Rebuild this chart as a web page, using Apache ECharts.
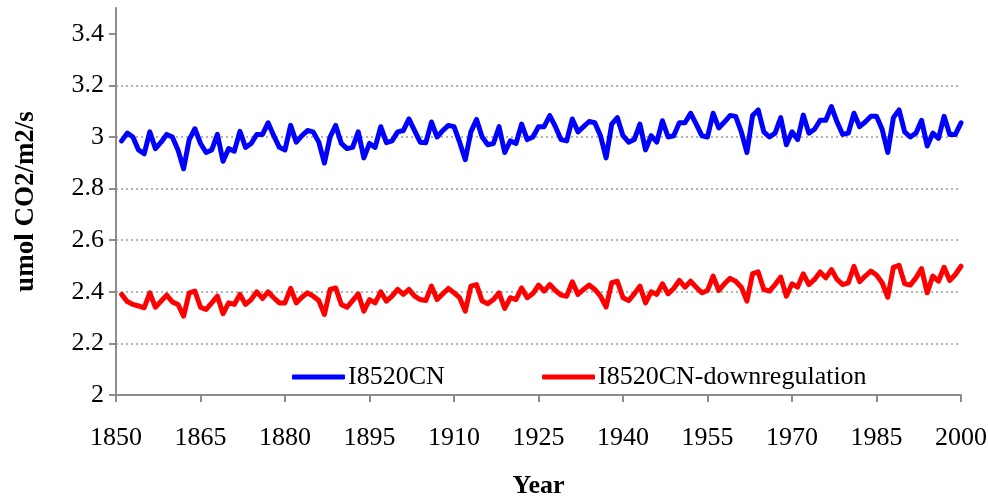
<!DOCTYPE html>
<html>
<head>
<meta charset="utf-8">
<script src="https://cdn.jsdelivr.net/npm/echarts@6/dist/echarts.min.js"></script>
<style>
    html, body { margin: 0; padding: 0; background: #fff; }
    #chart { width: 988px; height: 498px; }
</style>
</head>
<body>
<div id="chart"></div>
<script>
// Valeurs (une valeur par an, 1851-2000)
const firstYear = 1851;

const cnValues = [
    2.985, 3.015, 3.00, 2.95, 2.935, 3.02, 2.955, 2.98, 3.01, 3.00,
    2.95, 2.877, 2.99, 3.032, 2.975, 2.94, 2.95, 3.01, 2.906, 2.955,
    2.945, 3.022, 2.96, 2.975, 3.01, 3.01, 3.055, 3.005, 2.96, 2.95,
    3.045, 2.98, 3.005, 3.025, 3.02, 2.98, 2.899, 3.0, 3.045, 2.975,
    2.955, 2.96, 3.02, 2.919, 2.975, 2.96, 3.04, 2.978, 2.985, 3.02,
    3.025, 3.07, 3.025, 2.98, 2.978, 3.058, 3.0, 3.025, 3.045, 3.04,
    2.98, 2.912, 3.02, 3.068, 3.0, 2.97, 2.975, 3.04, 2.94, 2.985,
    2.975, 3.05, 2.99, 3.0, 3.04, 3.04, 3.083, 3.04, 2.99, 2.985,
    3.07, 3.02, 3.04, 3.06, 3.055, 3.005, 2.919, 3.05, 3.075, 3.005,
    2.98, 2.99, 3.05, 2.95, 3.005, 2.98, 3.063, 3.0, 3.005, 3.055,
    3.055, 3.092, 3.05, 3.005, 3.0, 3.092, 3.035, 3.058, 3.083, 3.08,
    3.02, 2.94, 3.083, 3.105, 3.02, 3.0, 3.015, 3.075, 2.97, 3.02,
    2.99, 3.085, 3.015, 3.03, 3.065, 3.065, 3.118, 3.058, 3.01, 3.015,
    3.092, 3.04, 3.058, 3.08, 3.08, 3.03, 2.94, 3.075, 3.105, 3.02,
    3.0, 3.015, 3.065, 2.965, 3.015, 2.995, 3.08, 3.01, 3.01, 3.055
];

const downValues = [
    2.39, 2.362, 2.351, 2.345, 2.338, 2.396, 2.34, 2.364, 2.387, 2.361,
    2.351, 2.306, 2.396, 2.403, 2.34, 2.332, 2.357, 2.383, 2.315, 2.357,
    2.351, 2.39, 2.351, 2.37, 2.40, 2.374, 2.40, 2.377, 2.357, 2.357,
    2.413, 2.357, 2.379, 2.396, 2.383, 2.366, 2.312, 2.409, 2.415, 2.351,
    2.34, 2.366, 2.392, 2.325, 2.37, 2.357, 2.40, 2.364, 2.383, 2.409,
    2.39, 2.409, 2.383, 2.37, 2.366, 2.422, 2.37, 2.392, 2.413, 2.396,
    2.377, 2.325, 2.422, 2.428, 2.364, 2.354, 2.37, 2.396, 2.336, 2.377,
    2.37, 2.415, 2.377, 2.393, 2.426, 2.403, 2.428, 2.405, 2.387, 2.383,
    2.439, 2.39, 2.409, 2.426, 2.409, 2.383, 2.341, 2.435, 2.441, 2.377,
    2.366, 2.392, 2.422, 2.357, 2.40, 2.39, 2.431, 2.392, 2.413, 2.444,
    2.418, 2.441, 2.418, 2.396, 2.405, 2.461, 2.405, 2.431, 2.452, 2.441,
    2.418, 2.364, 2.47, 2.477, 2.409, 2.403, 2.428, 2.457, 2.383, 2.431,
    2.418, 2.47, 2.428, 2.448, 2.477, 2.454, 2.486, 2.448, 2.428, 2.435,
    2.499, 2.439, 2.461, 2.48, 2.465, 2.435, 2.379, 2.495, 2.503, 2.431,
    2.426, 2.454, 2.49, 2.396, 2.461, 2.441, 2.495, 2.444, 2.467, 2.499
];

const seriesNames = ['I8520CN', 'I8520CN-downregulation'];
const seriesColors = ['#0000ff', '#ff0000'];
const yTicks = [2, 2.2, 2.4, 2.6, 2.8, 3, 3.2, 3.4];

const FONT = "'Liberation Serif', 'Times New Roman', serif";
const AXIS_GREY = '#8c8c8c';

/**
 * Associe chaque valeur à son année
 */
function toPairs(values) {
    return values.map((v, i) => [firstYear + i, v]);
}

function lineSeries(name, color, values) {
    return {
        name: name,
        type: 'line',
        data: toPairs(values),
        showSymbol: false,
        symbol: 'none',
        lineStyle: { color: color, width: 5, cap: 'round', join: 'round' },
        itemStyle: { color: color },
        emphasis: { disabled: true },
        animation: false
    };
}

function legendAt(left, name) {
    return {
        left: left,
        top: 358,
        data: [name],
        icon: 'roundRect',
        itemWidth: 53,
        itemHeight: 5,
        itemGap: 0,
        selectedMode: false,
        textStyle: { fontFamily: FONT, fontSize: 26, color: '#000', lineHeight: 28, padding: [0, 0, 0, -2] }
    };
}

const dom = document.getElementById('chart');
const myChart = echarts.init(dom, null, { renderer: 'canvas' });

myChart.setOption({
    animation: false,
    backgroundColor: '#fff',
    // Pas d'ajustement automatique : la zone de tracé reste fixe
    grid: { left: 116, right: 27, top: 8, bottom: 103, containLabel: false, outerBoundsMode: 'none' },
    legend: [
        legendAt(287, seriesNames[0]),
        legendAt(537, seriesNames[1])
    ],
    xAxis: {
        type: 'value',
        min: 1850,
        max: 2000,
        interval: 15,
        name: 'Year',
        nameLocation: 'middle',
        nameGap: 78,
        nameTextStyle: { fontFamily: FONT, fontSize: 26, fontWeight: 'bold', color: '#000' },
        axisLine: { lineStyle: { color: AXIS_GREY, width: 2 } },
        axisTick: { length: 7, lineStyle: { color: AXIS_GREY, width: 2 } },
        axisLabel: { margin: 30, fontFamily: FONT, fontSize: 26, color: '#000', formatter: v => String(v) },
        splitLine: { show: false }
    },
    yAxis: {
        type: 'value',
        min: 2,
        max: 3.5,
        interval: 0.2,
        name: 'umol CO2/m2/s',
        nameLocation: 'middle',
        nameGap: 76,
        nameTextStyle: { fontFamily: FONT, fontSize: 27, fontWeight: 'bold', color: '#000' },
        axisLine: { show: true, lineStyle: { color: AXIS_GREY, width: 2 } },
        axisTick: { show: true, length: 7, customValues: yTicks, lineStyle: { color: AXIS_GREY, width: 2 } },
        axisLabel: {
            margin: 12,
            customValues: yTicks,
            fontFamily: FONT,
            fontSize: 26,
            color: '#000',
            formatter: v => String(Math.round(v * 10) / 10)
        },
        splitLine: {
            show: true,
            showMinLine: false,
            showMaxLine: false,
            lineStyle: { color: '#9a9a9a', width: 1.5, type: [2, 3] }
        }
    },
    series: [
        lineSeries(seriesNames[0], seriesColors[0], cnValues),
        lineSeries(seriesNames[1], seriesColors[1], downValues)
    ]
});
</script>
</body>
</html>
